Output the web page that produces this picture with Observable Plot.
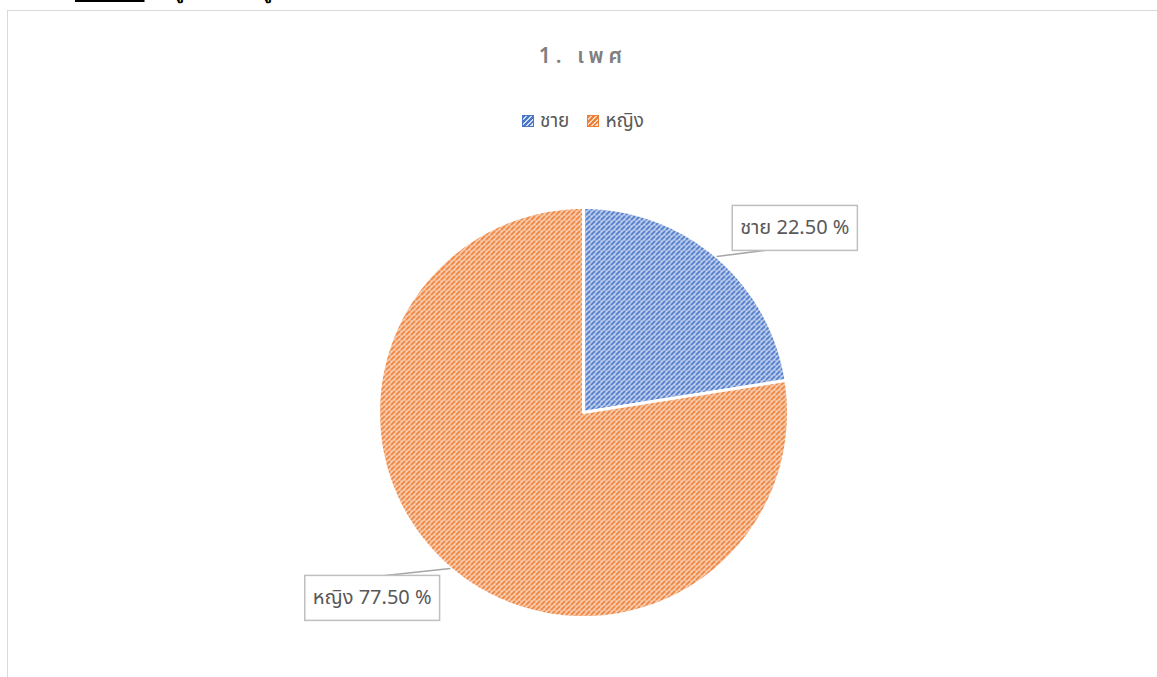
<!DOCTYPE html>
<html><head><meta charset="utf-8">
<script src="https://cdn.jsdelivr.net/npm/d3@7"></script>
<script src="https://cdn.jsdelivr.net/npm/@observablehq/plot@0.6"></script>
<style>
html,body{margin:0;padding:0;background:#fff;}
body{width:1157px;height:677px;overflow:hidden;position:relative;font-family:"Noto Sans Thai","Leelawadee UI",Tahoma,"Noto Sans",sans-serif;}
#head{position:absolute;left:75px;top:-19px;font-weight:bold;font-size:17px;color:#000;white-space:nowrap;}
#head u{text-decoration-thickness:2px;}
#frame{position:absolute;left:7px;top:10px;width:1170px;height:690px;border:1.5px solid #d9d9d9;box-sizing:border-box;}
#title{position:absolute;left:0;width:1166px;top:41px;height:32px;line-height:32px;text-align:center;font-size:21px;letter-spacing:5px;color:#7f7f7f;font-weight:600;}
#legend{position:absolute;left:0;width:1166px;top:108px;height:28px;line-height:28px;text-align:center;font-size:19px;color:#595959;}
#legend .item{display:inline-block;margin:0 9px;}
#legend .sw{display:inline-block;width:10px;height:10px;margin-right:6px;vertical-align:0px;}
#chart{position:absolute;left:0;top:140px;}
</style></head>
<body>
<div id="head"><u>ตารางที่ 1</u>&nbsp; ข้อมูลทั่วไปของผู้ตอบแบบสอบถาม</div>
<div id="frame"></div>
<div id="title">1. เพศ</div>
<div id="legend"></div>
<div id="chart"></div>
<script>
// ---- data ----
const categories = ["ชาย", "หญิง"];
const percents = [22.5, 77.5];

// ---- styles ----
const hatchColors = [
  {bg: "#d3def3", fg: "#4a77c9"},
  {bg: "#fadbc6", fg: "#ee7f36"}
];
const patternIds = ["hatch0", "hatch1"];

// legend
const legend = d3.select("#legend");
categories.forEach((c, i) => {
  const it = legend.append("span").attr("class", "item");
  it.append("span").attr("class", "sw")
    .style("background", `repeating-linear-gradient(135deg, ${hatchColors[i].fg} 0 1.5px, ${hatchColors[i].bg} 1.5px 3.5px)`)
    .style("border", `0.5px solid ${hatchColors[i].fg}`);
  it.append("span").text(c);
});

// geometry in unit coords (radius 1)
const W = 1157, H = 537;
const k = 205;          // px per unit
const cx = 583, cy = 272;
const arcs = d3.pie().sort(null)(percents);
const slices = [];
arcs.forEach((a, i) => {
  const pts = [{cat: categories[i], x: 0, y: 0}];
  const n = Math.max(2, Math.ceil((a.endAngle - a.startAngle) / (Math.PI / 180)));
  for (let j = 0; j <= n; j++) {
    const t = a.startAngle + (a.endAngle - a.startAngle) * j / n;
    pts.push({cat: categories[i], x: Math.sin(t), y: Math.cos(t)});
  }
  pts.push({cat: categories[i], x: 0, y: 0});
  slices.push(...pts);
});

const labels = arcs.map((a, i) => {
  const mid = (a.startAngle + a.endAngle) / 2;
  const la = mid + 8.3 * Math.PI / 180;
  const r = 1.37;
  const lx = Math.sin(la) * r, ly = Math.cos(la) * r;
  const up = Math.cos(mid) > 0; // label above -> line goes to box bottom
  return {
    text: `${categories[i]} ${percents[i].toFixed(2)} %`,
    x: lx, y: ly,
    ex: Math.sin(mid), ey: Math.cos(mid),
    bx: lx + (Math.sin(mid) > 0 ? -23 : 13) / k,
    by: ly + (up ? -22 : 22) / k
  };
});

const svg = Plot.plot({
  width: W, height: H,
  margin: 0,
  x: {domain: [-cx / k, (W - cx) / k], axis: null},
  y: {domain: [-(H - cy) / k, cy / k], axis: null},
  color: {domain: categories, range: patternIds.map(id => `url(#${id})`)},
  style: {background: "transparent", overflow: "visible"},
  marks: [
    Plot.line(slices, {x: "x", y: "y", z: "cat", fill: "cat", stroke: "white", strokeWidth: 3, strokeLinejoin: "miter", curve: "linear"}),
    Plot.link(labels, {x1: "ex", y1: "ey", x2: "bx", y2: "by", stroke: "#a6a6a6", strokeWidth: 1.5}),
    Plot.text(labels, {x: "x", y: "y", text: "text", fontSize: 20, fill: "#595959",
      fontFamily: "'Noto Sans Thai','Leelawadee UI',Tahoma,'Noto Sans',sans-serif"})
  ]
});
document.getElementById("chart").appendChild(svg);

// pattern defs ("/" diagonal hatch)
const defs = d3.select(svg).insert("defs", ":first-child");
patternIds.forEach((id, i) => {
  const p = defs.append("pattern").attr("id", id).attr("patternUnits", "userSpaceOnUse")
    .attr("width", 5).attr("height", 5);
  p.append("rect").attr("width", 5).attr("height", 5).attr("fill", hatchColors[i].bg);
  p.append("path").attr("d", "M-1,6 L6,-1 M-2,1 L1,-2 M4,7 L7,4")
    .attr("stroke", hatchColors[i].fg).attr("stroke-width", 2).attr("fill", "none");
});

// label boxes behind text
const texts = svg.querySelectorAll("text");
if (texts.length) {
  const tg = texts[0].parentNode;
  const boxG = document.createElementNS("http://www.w3.org/2000/svg", "g");
  tg.parentNode.insertBefore(boxG, tg);
  const gtr = tg.getAttribute("transform");
  if (gtr) boxG.setAttribute("transform", gtr);
  texts.forEach(t => {
    const b = t.getBBox();
    const tr = t.getAttribute("transform") || "";
    const m = /translate\(([-\d.e]+)[ ,]+([-\d.e]+)\)/.exec(tr);
    let ox = 0, oy = 0;
    if (m) { ox = +m[1]; oy = +m[2]; }
    const r = document.createElementNS("http://www.w3.org/2000/svg", "rect");
    const w = b.width + 16, h = 45;
    r.setAttribute("x", ox + b.x + b.width / 2 - w / 2);
    r.setAttribute("y", oy + b.y + b.height / 2 - h / 2);
    r.setAttribute("width", w);
    r.setAttribute("height", h);
    r.setAttribute("fill", "white");
    r.setAttribute("stroke", "#bfbfbf");
    r.setAttribute("stroke-width", 1.5);
    boxG.appendChild(r);
  });
}
</script>
</body></html>
